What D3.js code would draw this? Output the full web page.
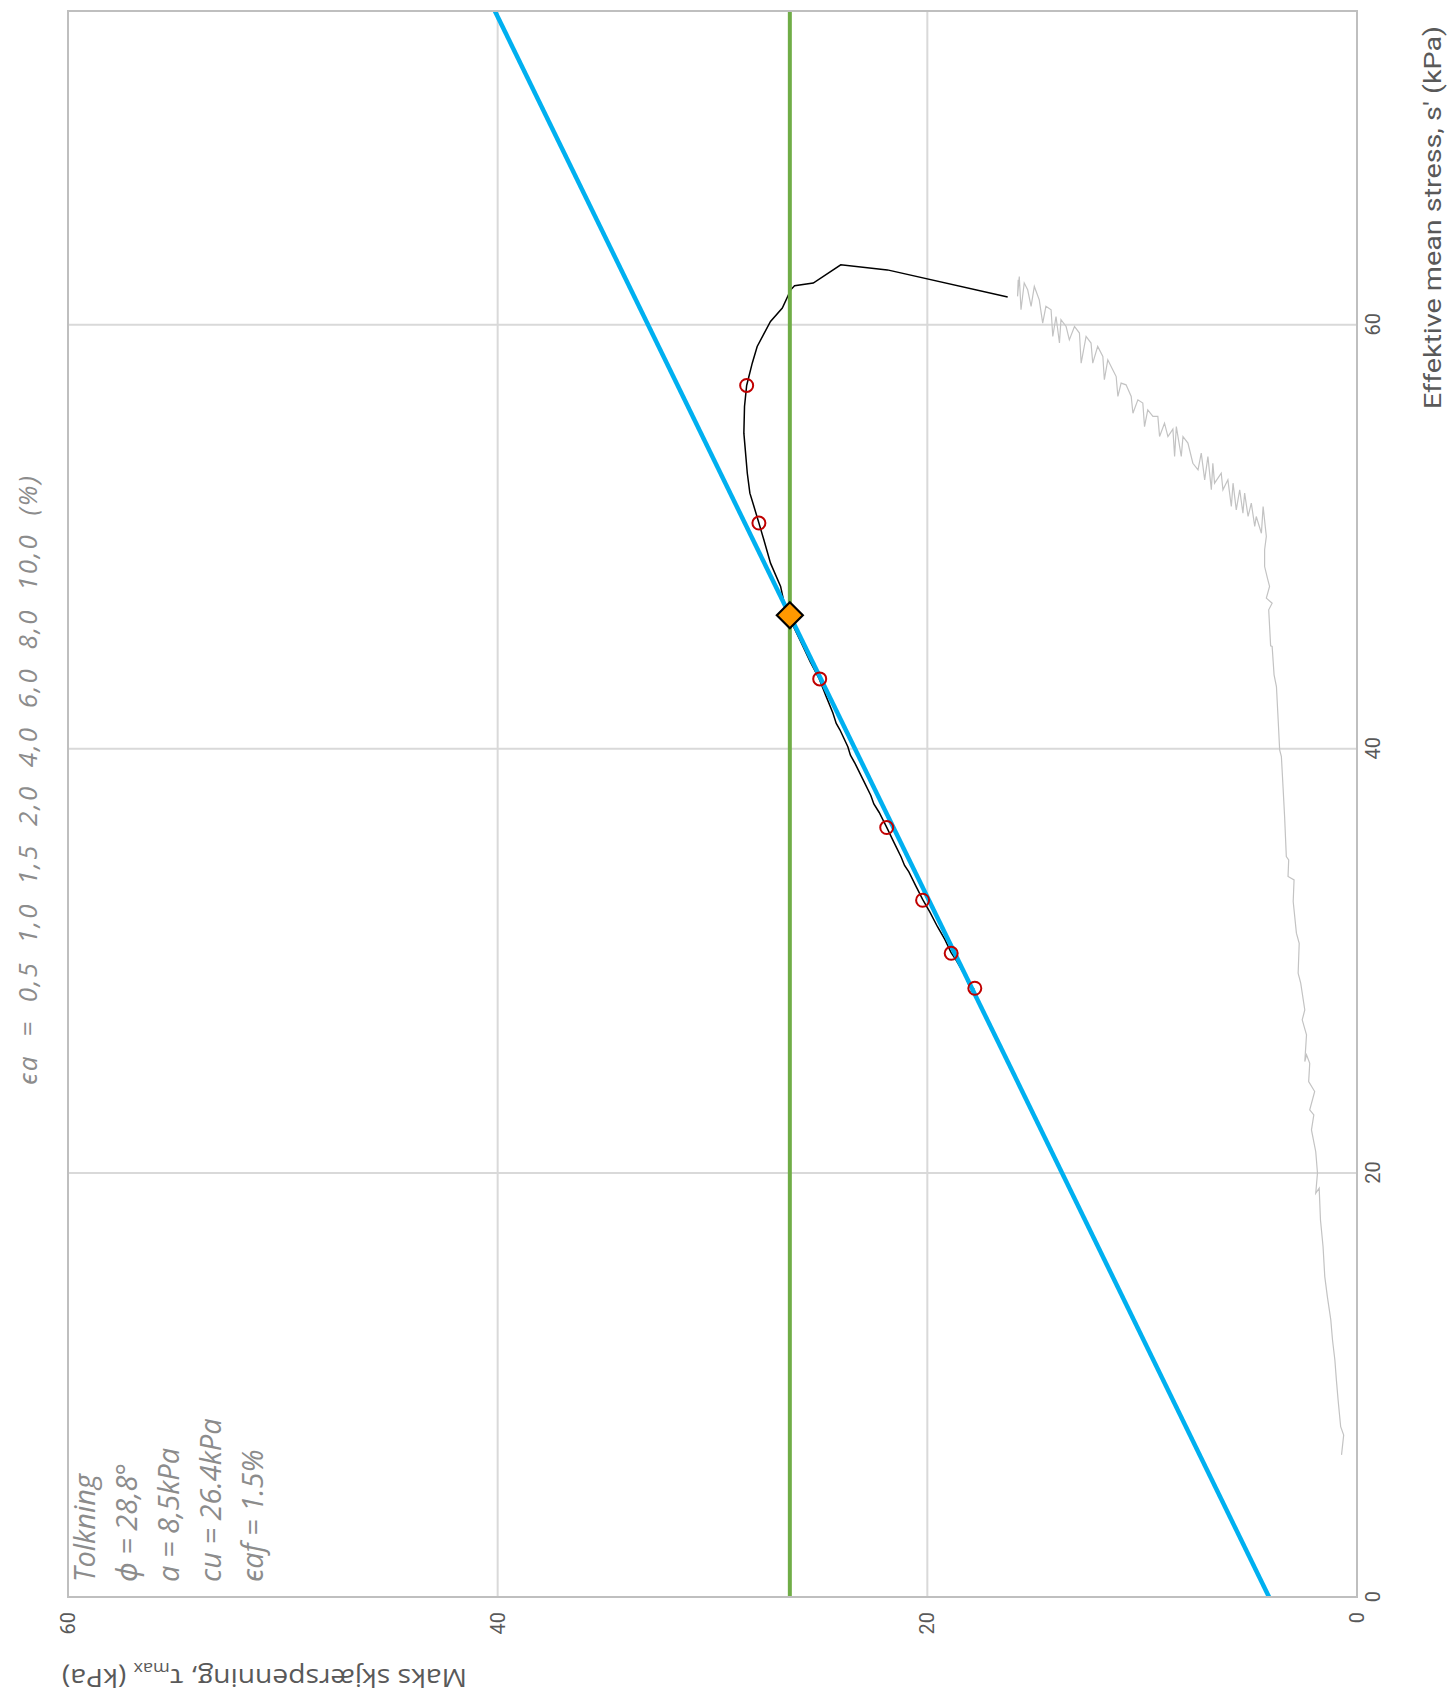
<!DOCTYPE html>
<html>
<head>
<meta charset="utf-8">
<script src="https://cdn.jsdelivr.net/npm/d3@7"></script>
<style>
  body { margin: 0; background: #ffffff; }
  svg { display: block; }
</style>
</head>
<body>
<svg id="chart" width="1455" height="1696"></svg>
<script>
// ---- axes ----
const sDomain = [0, 74.8];            // effective mean stress s' (kPa)
const tauDomain = [0, 60];            // max shear stress (kPa)
const sTicks = [0, 20, 40, 60];
const tauTicks = [0, 20, 40, 60];

// ---- interpretation ----
const phiDeg = 28.8;                  // friction angle (deg)
const attraction = 8.5;               // a (kPa)
const cu = 26.4;                      // undrained strength (kPa)
const eaf = 1.5;                      // strain at failure (%)

// ---- strain markers along the shear path ----
const strainLevels = [0.5, 1.0, 1.5, 2.0, 4.0, 6.0, 8.0, 10.0];
const strainS   = [57.14, 50.65, 46.30, 43.30, 36.29, 32.86, 30.36, 28.71];
const strainTau = [28.41, 27.84, 26.40, 25.01, 21.89, 20.22, 18.89, 17.79];

// ---- undrained shear path ----
const shearS = [61.31, 62.59, 62.83, 61.97, 61.84, 61.65, 60.79, 60.16, 58.98, 58.19,
  57.14, 56.15, 54.89, 53.00, 52.06, 51.43, 50.65, 49.86, 48.76, 47.66,
  46.95, 46.30, 45.70, 44.90, 44.10, 43.30, 42.50, 41.70, 41.20, 40.90,
  40.10, 39.70, 39.30, 38.50, 37.80, 37.40, 37.00, 36.30, 35.60, 34.90,
  34.50, 34.20, 33.50, 32.90, 32.30, 31.60, 31.00, 30.40, 30.00, 29.30,
  28.90, 28.70, 28.55];
const shearTau = [16.26, 21.86, 24.03, 25.31, 26.18, 26.36, 26.75, 27.30, 27.92, 28.15,
  28.41, 28.51, 28.54, 28.38, 28.26, 28.07, 27.84, 27.61, 27.30, 26.83,
  26.68, 26.45, 26.20, 25.82, 25.45, 25.03, 24.72, 24.40, 24.24, 24.07,
  23.70, 23.58, 23.36, 22.97, 22.63, 22.49, 22.24, 21.89, 21.56, 21.22,
  21.06, 20.86, 20.52, 20.22, 19.88, 19.52, 19.18, 18.90, 18.64, 18.24,
  18.08, 17.85, 17.98];

// ---- consolidation path ----
const consS = [6.70, 7.64, 8.03, 9.29, 10.24, 11.18, 12.12, 13.07, 14.17, 15.11,
  16.52, 17.78, 19.28, 19.04, 20.00, 21.00, 22.03, 22.74, 22.97, 23.84,
  24.31, 25.17, 25.57, 25.25, 26.51, 27.22, 27.69, 28.95, 29.42, 30.83,
  31.31, 32.80, 33.82, 33.98, 34.76, 34.92, 36.81, 38.15, 39.64, 39.95,
  41.37, 42.94, 43.49, 44.83, 44.86, 46.56, 46.87, 47.11, 47.66, 48.05,
  48.60, 49.39, 50.02, 51.43, 50.17, 50.96, 50.49, 51.59, 50.96, 52.06,
  51.12, 52.22, 51.27, 52.53, 51.43, 52.69, 52.22, 53.00, 52.53, 53.47,
  52.22, 53.79, 52.69, 53.95, 53.16, 53.47, 54.42, 54.73, 53.79, 55.20,
  53.79, 55.08, 54.73, 55.36, 54.73, 55.68, 55.68, 55.99, 55.20, 56.31,
  56.46, 55.83, 56.62, 57.17, 57.25, 56.62, 57.56, 57.88, 58.35, 57.41,
  58.51, 58.98, 58.19, 59.14, 59.45, 58.19, 59.61, 59.92, 59.29, 59.92,
  60.24, 59.14, 60.39, 59.45, 60.71, 60.87, 60.08, 61.18, 61.81, 60.87,
  61.65, 61.97, 60.71, 62.28, 61.34, 62.12];
const consTau = [0.72, 0.62, 0.76, 0.88, 0.96, 1.03, 1.14, 1.22, 1.38, 1.50,
  1.58, 1.70, 1.76, 1.92, 1.84, 1.92, 2.12, 2.01, 2.20, 1.97,
  2.25, 2.20, 2.35, 2.43, 2.35, 2.55, 2.43, 2.62, 2.74, 2.69,
  2.82, 2.97, 2.93, 3.21, 3.18, 3.29, 3.37, 3.44, 3.52, 3.60,
  3.67, 3.75, 3.86, 3.95, 4.02, 4.11, 3.95, 4.22, 4.07, 4.17,
  4.30, 4.30, 4.22, 4.37, 4.45, 4.69, 4.76, 4.92, 5.07, 5.23,
  5.31, 5.46, 5.62, 5.77, 5.85, 6.01, 6.24, 6.32, 6.63, 6.71,
  6.78, 6.94, 7.09, 7.25, 7.40, 7.64, 7.87, 8.10, 8.18, 8.41,
  8.49, 8.57, 8.80, 8.96, 9.19, 9.27, 9.50, 9.74, 9.89, 9.97,
  10.20, 10.43, 10.51, 10.75, 10.98, 11.13, 11.21, 11.37, 11.60, 11.76,
  11.83, 12.07, 12.30, 12.38, 12.61, 12.84, 12.92, 13.15, 13.39, 13.54,
  13.78, 13.85, 14.01, 14.16, 14.24, 14.48, 14.63, 14.79, 15.02, 15.17,
  15.33, 15.49, 15.64, 15.72, 15.80, 15.77];

// ---- layout (screen): s' runs upward, tau runs leftward ----
const frameLeft = 68, frameRight = 1357, frameTop = 11, frameBottom = 1597;
const W = frameBottom - frameTop;    // length of s' axis
const H = frameRight - frameLeft;    // length of tau axis

const svg = d3.select('#chart');
const g = svg.append('g')
  .attr('transform', `translate(${frameLeft},${frameBottom}) rotate(-90)`);

const x = d3.scaleLinear().domain(sDomain).range([0, W]);
const y = d3.scaleLinear().domain(tauDomain).range([H, 0]);

const labelColor = '#595959';
const noteColor = '#8c8c8c';
const tickFont = '"Liberation Sans Narrow", "Roboto", "DejaVu Sans Condensed", sans-serif';
const noteFont = '"Open Sans", "Noto Sans", sans-serif';

// grid
g.append('g').selectAll('line').data(sTicks.filter(d => d > 0)).join('line')
  .attr('x1', d => x(d)).attr('x2', d => x(d))
  .attr('y1', 0).attr('y2', H)
  .attr('stroke', '#d9d9d9').attr('stroke-width', 2);
g.append('g').selectAll('line').data(tauTicks.filter(d => d > 0 && d < 60)).join('line')
  .attr('x1', 0).attr('x2', W)
  .attr('y1', d => y(d)).attr('y2', d => y(d))
  .attr('stroke', '#d9d9d9').attr('stroke-width', 2);

// clip for data marks
g.append('clipPath').attr('id', 'plot-clip')
  .append('rect').attr('x', 0).attr('y', 0).attr('width', W).attr('height', H);
const plot = g.append('g').attr('clip-path', 'url(#plot-clip)');

const line = d3.line().x(d => x(d[0])).y(d => y(d[1]));

// consolidation path
const consData = consS.map((s, i) => [s, consTau[i]]);
plot.append('path').datum(consData)
  .attr('d', line)
  .attr('fill', 'none').attr('stroke', '#c3c3c3').attr('stroke-width', 1.2)
  .attr('stroke-linejoin', 'miter');

// shear path
const shearData = shearS.map((s, i) => [s, shearTau[i]]);
plot.append('path').datum(shearData)
  .attr('d', line)
  .attr('fill', 'none').attr('stroke', '#000000').attr('stroke-width', 1.5);

// failure line  tau = (s' + a) sin(phi)
const sinPhi = Math.sin(phiDeg * Math.PI / 180);
const failLine = sDomain.map(s => [s, (s + attraction) * sinPhi]);
plot.append('path').datum(failLine)
  .attr('d', line)
  .attr('fill', 'none').attr('stroke', '#00b0f0').attr('stroke-width', 4.5);

// undrained strength level
plot.append('path').datum(sDomain.map(s => [s, cu]))
  .attr('d', line)
  .attr('fill', 'none').attr('stroke', '#70ad47').attr('stroke-width', 4);

// strain markers
g.append('g').selectAll('circle').data(strainLevels.map((e, i) => ({ e, s: strainS[i], t: strainTau[i] })))
  .join('circle')
  .attr('cx', d => x(d.s)).attr('cy', d => y(d.t)).attr('r', 6.5)
  .attr('fill', 'none').attr('stroke', '#c00000').attr('stroke-width', 2);

// failure point: intersection of failure line and cu
const sFail = cu / sinPhi - attraction;
const dHalf = 13;
g.append('path')
  .attr('transform', `translate(${x(sFail)},${y(cu)})`)
  .attr('d', `M${-dHalf},0L0,${-dHalf}L${dHalf},0L0,${dHalf}Z`)
  .attr('fill', '#ff9900').attr('stroke', '#000').attr('stroke-width', 2.2);

// frame
g.append('rect').attr('x', 0).attr('y', 0).attr('width', W).attr('height', H)
  .attr('fill', 'none').attr('stroke', '#bfbfbf').attr('stroke-width', 2);

// axes
const xAxis = g.append('g').attr('transform', `translate(0,${H})`)
  .call(d3.axisBottom(x).tickValues(sTicks).tickSize(0).tickPadding(9).tickFormat(d3.format('d')));
const yAxis = g.append('g')
  .call(d3.axisLeft(y).tickValues(tauTicks).tickSize(0).tickPadding(15).tickFormat(d3.format('d')));
[xAxis, yAxis].forEach(a => {
  a.select('.domain').remove();
  a.selectAll('text').attr('fill', labelColor)
    .style('font-family', tickFont).style('font-size', '20px');
});

// axis titles
g.append('text')
  .attr('x', W - 398).attr('y', H + 84)
  .attr('textLength', 383).attr('lengthAdjust', 'spacingAndGlyphs')
  .attr('fill', labelColor)
  .style('font-family', tickFont).style('font-size', '24px')
  .text("Effektive mean stress, s' (kPa)");

const yTitle = g.append('text')
  .attr('transform', 'translate(-72,399) rotate(-90)')
  .attr('textLength', 405).attr('lengthAdjust', 'spacingAndGlyphs')
  .attr('fill', labelColor)
  .style('font-family', noteFont).style('font-size', '25px');
yTitle.append('tspan').text('Maks skjærspenning, τ');
yTitle.append('tspan').attr('dy', 6).style('font-size', '16px').text('max');
yTitle.append('tspan').attr('dy', -6).text(' (kPa)');

// strain level caption
const fmtComma = d => d3.format('.1f')(d).replace('.', ',');
g.append('text')
  .attr('x', 512).attr('y', -31)
  .attr('xml:space', 'preserve')
  .style('white-space', 'pre')
  .attr('textLength', 609).attr('lengthAdjust', 'spacing')
  .attr('fill', noteColor)
  .style('font-family', noteFont)
  .style('font-style', 'italic').style('font-size', '26px')
  .text('ϵa  =  ' + strainLevels.map(fmtComma).join('  ') + '  (%)');

// interpretation box
const notes = [
  'Tolkning',
  `ϕ = ${fmtComma(phiDeg)}°`,
  `a = ${fmtComma(attraction)}kPa`,
  `cu = ${d3.format('.1f')(cu)}kPa`,
  `ϵaf = ${d3.format('.1f')(eaf)}%`
];
g.append('g').selectAll('text').data(notes).join('text')
  .attr('x', 15).attr('y', (d, i) => 27 + i * 42)
  .attr('fill', noteColor)
  .style('font-family', noteFont)
  .style('font-style', 'italic').style('font-size', '29px')
  .text(d => d);
</script>
</body>
</html>
